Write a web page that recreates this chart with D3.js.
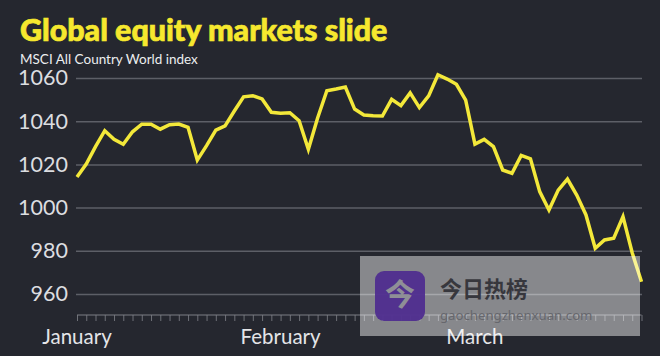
<!DOCTYPE html>
<html>
<head>
<meta charset="utf-8">
<script src="https://d3js.org/d3.v7.min.js"></script>
<style>
  html, body { margin: 0; padding: 0; background: #25272f; overflow: hidden; }
  #viz { display: block; }
  .domain { display: none; }
</style>
</head>
<body>
<svg id="viz" width="660" height="356"></svg>
<script>
// index level per trading day
const closes = [
  1014.2, 1020.2, 1028.2, 1035.6, 1031.6, 1029.3, 1035.1, 1038.6, 1038.6, 1036.3, 1038.4,
  1038.7, 1037.2, 1022, 1028.7, 1035.9, 1037.8, 1044.7, 1051.3, 1051.8, 1050.3, 1044.1,
  1043.7, 1043.9, 1040.2, 1027, 1041.5, 1054.1, 1054.9, 1055.8, 1045.6, 1042.9, 1042.5,
  1042.4, 1050.1, 1047.2, 1053.1, 1046.3, 1051.7, 1061.5, 1059.5, 1057.1, 1049.8, 1029.4,
  1031.6, 1028.2, 1017.4, 1015.9, 1024.2, 1022.6, 1007.4, 998.9, 1008.1, 1013.2, 1005.8,
  996.6, 981.2, 985, 985.8, 995.8, 979, 965.7
];
const yTicks = [960, 980, 1000, 1020, 1040, 1060];
const monthNames = ['January', 'February', 'March'];
const monthStarts = [0, 22, 43];

const title = 'Global equity markets slide';
const subtitle = 'MSCI All Country World index';
const markName = '今日热榜';
const markGlyph = '今';
const markUrl = 'gaochengzhenxuan.com';

const svg = d3.select('#viz');
const font = 'Lato, "Noto Sans", sans-serif';

const x = d3.scaleLinear().domain([0, closes.length - 1]).range([77, 641.5]);
const y = d3.scaleLinear().domain([960, 1060]).range([294, 78]);

// Title block
svg
  .append('text')
  .attr('x', 20)
  .attr('y', 41)
  .attr('stroke', '#f6e82e')
  .attr('stroke-width', 0.7)
  .style('font-family', font)
  .style('font-weight', 900)
  .style('font-size', '30.4px')
  .style('fill', '#f6e82e')
  .text(title);

svg
  .append('text')
  .attr('x', 20)
  .attr('y', 64)
  .style('font-family', font)
  .style('font-size', '13.5px')
  .style('fill', '#eceef0')
  .text(subtitle);

// Y axis with full width grid lines
const yAxis = svg
  .append('g')
  .attr('transform', 'translate(76,0)')
  .call(d3.axisLeft(y).tickValues(yTicks).tickFormat(d3.format('d')).tickSize(-566).tickPadding(8));

yAxis
  .selectAll('line')
  .attr('stroke', '#5d5f67')
  .attr('stroke-width', 1.5);

yAxis
  .selectAll('text')
  .style('font-family', font)
  .style('font-size', '21.5px')
  .style('fill', '#dcdde0');

// X axis, one tick per trading day
const xAxis = svg
  .append('g')
  .attr('transform', 'translate(0,315)')
  .call(d3.axisBottom(x).tickValues(d3.range(closes.length)).tickFormat('').tickSize(6));

xAxis.selectAll('line').attr('stroke', '#6f7178').attr('stroke-width', 1);

svg
  .append('line')
  .attr('x1', x(0))
  .attr('x2', x(closes.length - 1))
  .attr('y1', 315)
  .attr('y2', 315)
  .attr('stroke', '#7c7e85')
  .attr('stroke-width', 1);

svg
  .append('g')
  .selectAll('text')
  .data(monthNames)
  .join('text')
  .attr('x', (d, i) => x(monthStarts[i]))
  .attr('y', 344)
  .attr('text-anchor', 'middle')
  .style('font-family', font)
  .style('font-size', '20.5px')
  .style('fill', '#e4e5e8')
  .text((d) => d);

// The index line
const line = d3
  .line()
  .x((d, i) => x(i))
  .y((d) => y(d));

svg
  .append('path')
  .datum(closes)
  .attr('d', line)
  .attr('fill', 'none')
  .attr('stroke', '#f3e83a')
  .attr('stroke-width', 3.5)
  .attr('stroke-linejoin', 'miter');

// Watermark panel laid over the chart
const mark = svg.append('g');

mark
  .append('rect')
  .attr('x', 360)
  .attr('y', 256)
  .attr('width', 280)
  .attr('height', 80)
  .attr('fill', '#fff')
  .attr('fill-opacity', 0.45);

mark
  .append('rect')
  .attr('x', 375)
  .attr('y', 271)
  .attr('width', 50)
  .attr('height', 50)
  .attr('rx', 9)
  .attr('fill', '#4f2d8f')
  .attr('fill-opacity', 0.95);

mark
  .append('text')
  .attr('x', 400)
  .attr('y', 305)
  .attr('text-anchor', 'middle')
  .style('font-family', '"Noto Sans CJK SC"')
  .style('font-weight', 700)
  .style('font-size', '30px')
  .style('fill', '#8f8f96')
  .text(markGlyph);

mark
  .append('text')
  .attr('x', 440)
  .attr('y', 297)
  .style('font-family', '"Noto Sans CJK SC"')
  .style('font-weight', 700)
  .style('font-size', '22px')
  .style('fill', '#37373d')
  .text(markName);

mark
  .append('text')
  .attr('x', 440)
  .attr('y', 320)
  .style('font-family', '"Noto Sans", sans-serif')
  .style('font-size', '13.2px')
  .style('fill', '#66676d')
  .text(markUrl);
</script>
</body>
</html>
